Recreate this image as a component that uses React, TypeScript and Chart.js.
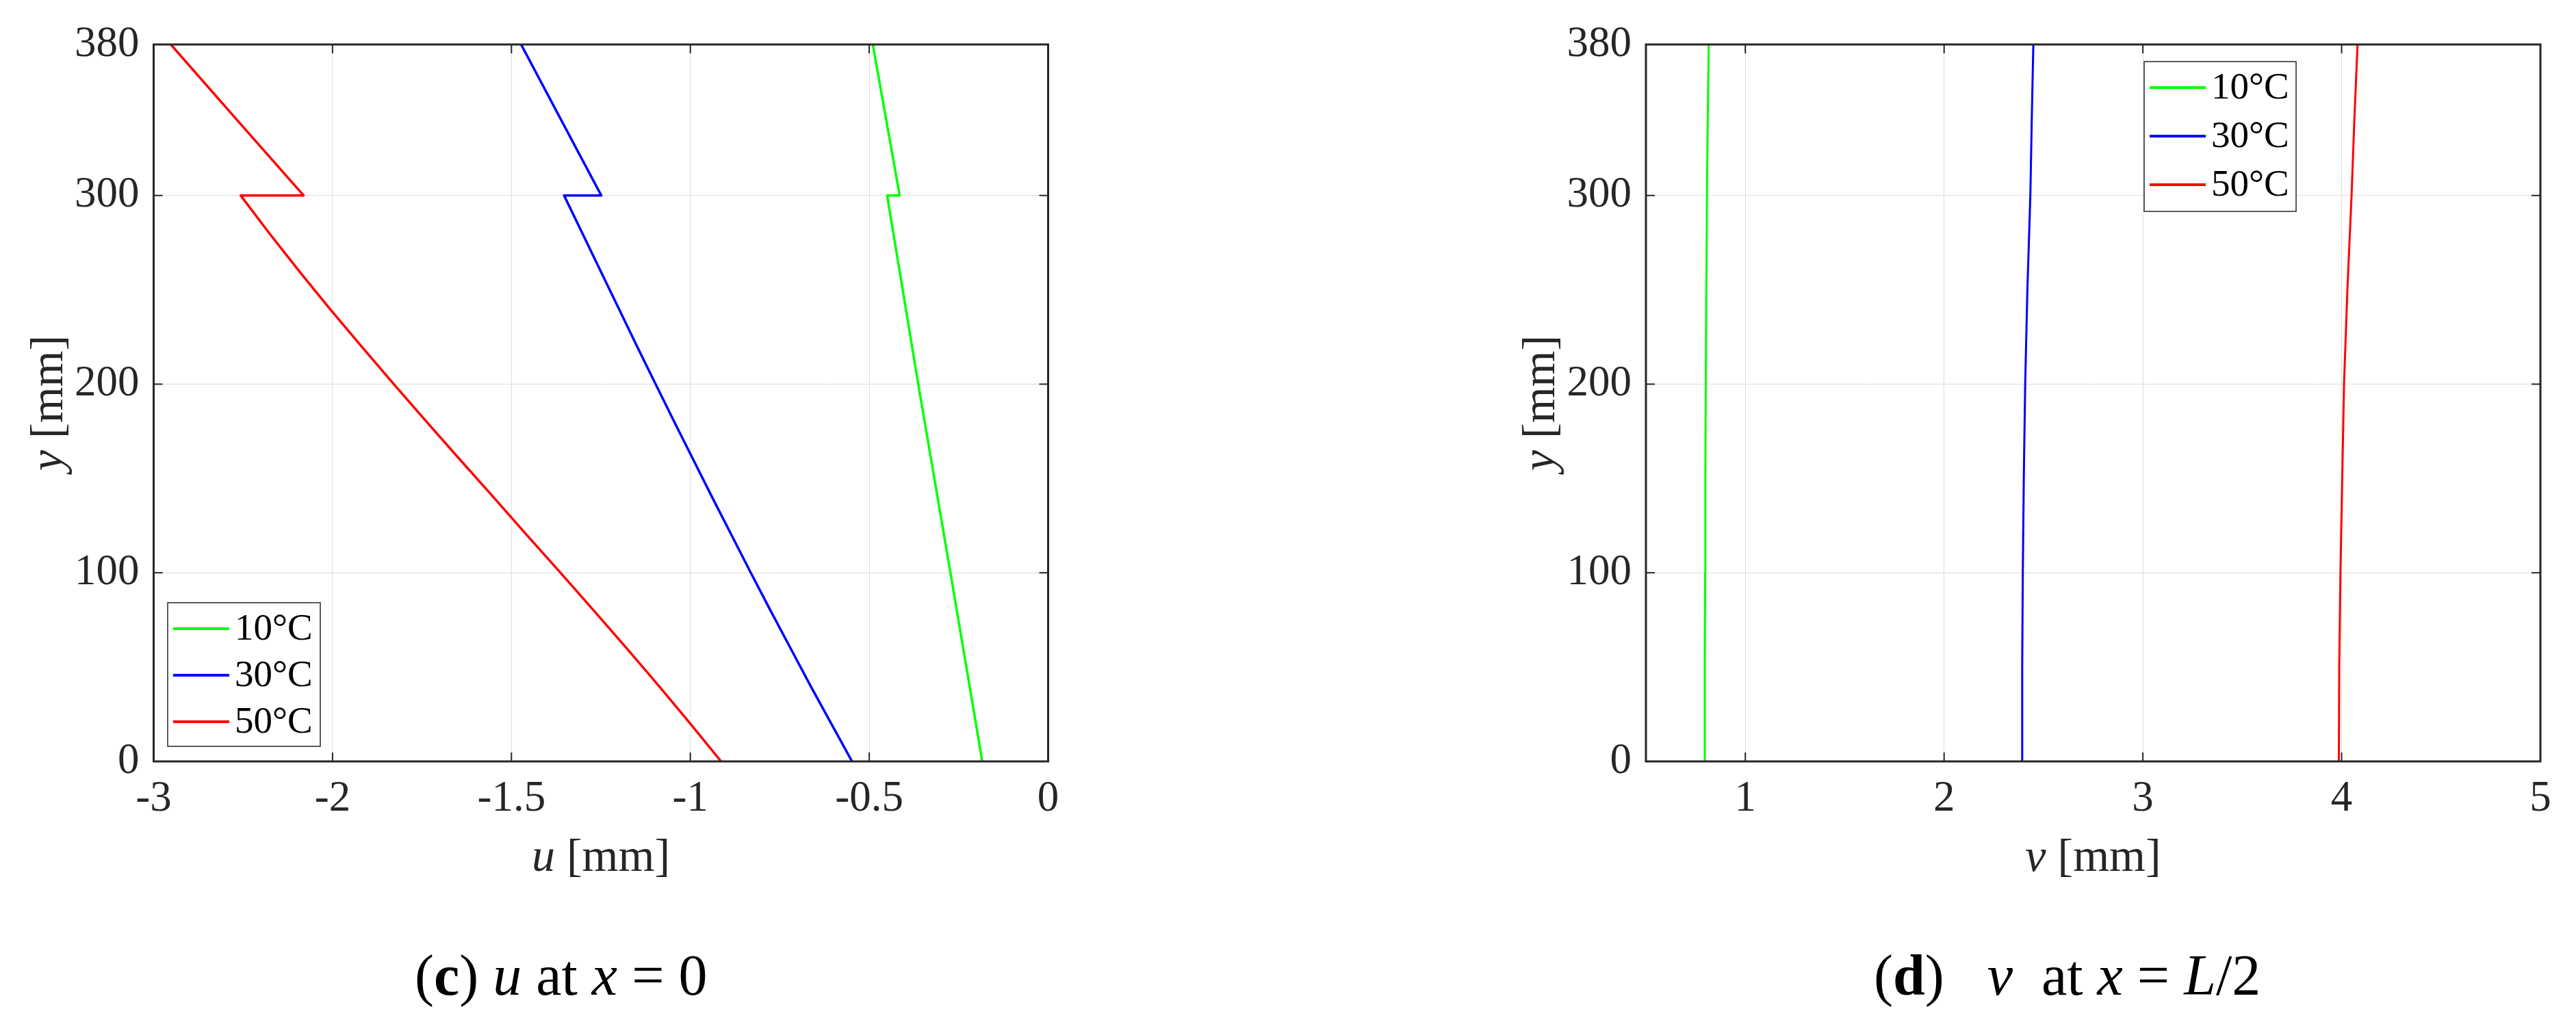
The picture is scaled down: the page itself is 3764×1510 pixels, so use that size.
import React, { useEffect, useRef } from "react";
import { Chart, registerables } from "chart.js";

Chart.register(...registerables);

// ---------- data ----------
const seriesLabels = ["10°C", "30°C", "50°C"];
const seriesColors = ["#00ff00", "#0000ff", "#ff0000"];

// (c) u at x = 0  (y in mm, u in mm)
const heights10u = [380, 300, 300, 200, 100, 0];
const u10 = [-0.49, -0.415, -0.45, -0.363, -0.273, -0.184];
const heights30u = [380, 340, 300, 300, 280, 260, 240, 220, 200, 180, 160, 140, 120, 100, 80, 60, 40, 20, 0];
const u30 = [-1.473, -1.361, -1.249, -1.353, -1.302, -1.251, -1.2, -1.149, -1.097, -1.045, -0.992, -0.939, -0.885, -0.831, -0.776, -0.72, -0.664, -0.606, -0.548];
const heights50u = [380, 340, 300, 300, 280, 260, 240, 220, 200, 180, 160, 140, 120, 100, 80, 60, 40, 20, 0];
const u50 = [-2.452, -2.267, -2.081, -2.257, -2.177, -2.094, -2.008, -1.919, -1.829, -1.737, -1.644, -1.55, -1.457, -1.363, -1.27, -1.178, -1.088, -1.0, -0.914];

// (d) v at x = L/2
const heightsV = [0, 50, 100, 150, 200, 250, 300, 340, 380];
const v10 = [0.795, 0.796, 0.798, 0.799, 0.801, 0.804, 0.807, 0.811, 0.816];
const v30 = [2.391, 2.393, 2.396, 2.401, 2.408, 2.419, 2.434, 2.441, 2.449];
const v50 = [3.986, 3.988, 3.994, 4.003, 4.012, 4.029, 4.05, 4.064, 4.08];

// ticks
const heightTicks = [0, 100, 200, 300, 380];
const heightTickLabels = ["0", "100", "200", "300", "380"];
const uTicks = [-2.5, -2, -1.5, -1, -0.5, 0];
const uTickLabels = ["-3", "-2", "-1.5", "-1", "-0.5", "0"];
const vTicks = [1, 2, 3, 4, 5];
const vTickLabels = ["1", "2", "3", "4", "5"];

// ---------- styling ----------
const FAMILY = "'Liberation Serif', 'Times New Roman', serif";
const AX = "#262626";
const GRID = "#dedede";

type Seg = { t: string; s?: "i" | "b" };

function fontFor(s: string | undefined, size: number) {
  return `${s === "i" ? "italic " : ""}${s === "b" ? "bold " : ""}${size}px ${FAMILY}`;
}

function segWidth(ctx: CanvasRenderingContext2D, segs: Seg[], size: number) {
  let w = 0;
  for (const g of segs) {
    ctx.font = fontFor(g.s, size);
    w += ctx.measureText(g.t).width;
  }
  return w;
}

function drawSegs(ctx: CanvasRenderingContext2D, segs: Seg[], x: number, y: number, size: number, color: string) {
  let cx = x;
  ctx.fillStyle = color;
  ctx.textAlign = "left";
  ctx.textBaseline = "alphabetic";
  for (const g of segs) {
    ctx.font = fontFor(g.s, size);
    ctx.fillText(g.t, cx, y);
    cx += ctx.measureText(g.t).width;
  }
}

type Panel = {
  W: number;
  H: number;
  area: { left: number; right: number; top: number; bottom: number };
  xMin: number;
  xMax: number;
  xTicks: number[];
  xLabels: string[];
  yTicks: number[];
  yLabels: string[];
  series: { xs: number[]; ys: number[] }[];
  lineWidth: number;
  xTitle: Seg[];
  yTitle: Seg[];
  caption: Seg[];
  captionX: number;
  legend: { left: number; top: number; width: number; height: number; firstRow: number; rowGap: number; textSize: number };
};

const leftPanel: Panel = {
  W: 1882,
  H: 1510,
  area: { left: 224.5, right: 1531.5, top: 65, bottom: 1113 },
  xMin: -2.5,
  xMax: 0,
  xTicks: uTicks,
  xLabels: uTickLabels,
  yTicks: heightTicks,
  yLabels: heightTickLabels,
  series: [
    { xs: u10, ys: heights10u },
    { xs: u30, ys: heights30u },
    { xs: u50, ys: heights50u },
  ],
  lineWidth: 3.5,
  xTitle: [{ t: "u", s: "i" }, { t: " [mm]" }],
  yTitle: [{ t: "y", s: "i" }, { t: " [mm]" }],
  caption: [{ t: "(" }, { t: "c", s: "b" }, { t: ") " }, { t: "u", s: "i" }, { t: " at " }, { t: "x", s: "i" }, { t: " = 0" }],
  captionX: 606,
  legend: { left: 245, top: 881, width: 223, height: 210, firstRow: 38, rowGap: 68, textSize: 55 },
};

const rightPanel: Panel = {
  W: 1882,
  H: 1510,
  area: { left: 523, right: 1830, top: 65, bottom: 1113 },
  xMin: 0.5,
  xMax: 5,
  xTicks: vTicks,
  xLabels: vTickLabels,
  yTicks: heightTicks,
  yLabels: heightTickLabels,
  series: [
    { xs: v10, ys: heightsV },
    { xs: v30, ys: heightsV },
    { xs: v50, ys: heightsV },
  ],
  lineWidth: 3,
  xTitle: [{ t: "v", s: "i" }, { t: " [mm]" }],
  yTitle: [{ t: "y", s: "i" }, { t: " [mm]" }],
  caption: [{ t: "(" }, { t: "d", s: "b" }, { t: ")   " }, { t: "v", s: "i" }, { t: "  at " }, { t: "x", s: "i" }, { t: " = " }, { t: "L", s: "i" }, { t: "/2" }],
  captionX: 856,
  legend: { left: 1251, top: 90, width: 222, height: 219, firstRow: 38, rowGap: 71, textSize: 55 },
};

function makeDecor(p: Panel) {
  return {
    id: "decor",
    afterDatasetsDraw(chart: any) {
      const ctx: CanvasRenderingContext2D = chart.ctx;
      const a = chart.chartArea;
      const xs = chart.scales.x;
      const ys = chart.scales.y;
      ctx.save();
      // inward ticks on all four sides
      ctx.strokeStyle = AX;
      ctx.lineWidth = 2;
      const tl = 13;
      ctx.beginPath();
      for (const v of p.xTicks) {
        const px = xs.getPixelForValue(v);
        if (Math.abs(px - a.left) < 2 || Math.abs(px - a.right) < 2) continue;
        ctx.moveTo(px, a.bottom);
        ctx.lineTo(px, a.bottom - tl);
        ctx.moveTo(px, a.top);
        ctx.lineTo(px, a.top + tl);
      }
      for (const v of p.yTicks) {
        const py = ys.getPixelForValue(v);
        if (Math.abs(py - a.top) < 2 || Math.abs(py - a.bottom) < 2) continue;
        ctx.moveTo(a.left, py);
        ctx.lineTo(a.left + tl, py);
        ctx.moveTo(a.right, py);
        ctx.lineTo(a.right - tl, py);
      }
      ctx.stroke();
      // box
      ctx.lineWidth = 3;
      ctx.strokeRect(a.left, a.top, a.right - a.left, a.bottom - a.top);
      ctx.restore();
    },
    afterDraw(chart: any) {
      const ctx: CanvasRenderingContext2D = chart.ctx;
      const a = chart.chartArea;
      ctx.save();
      // legend
      const L = p.legend;
      ctx.fillStyle = "#ffffff";
      ctx.fillRect(L.left, L.top, L.width, L.height);
      ctx.strokeStyle = AX;
      ctx.lineWidth = 1.5;
      ctx.strokeRect(L.left, L.top, L.width, L.height);
      chart.data.datasets.forEach((ds: any, i: number) => {
        const ry = L.top + L.firstRow + i * L.rowGap;
        ctx.strokeStyle = ds.borderColor;
        ctx.lineWidth = 4;
        ctx.beginPath();
        ctx.moveTo(L.left + 8, ry);
        ctx.lineTo(L.left + 90, ry);
        ctx.stroke();
        ctx.fillStyle = "#000000";
        ctx.font = `${L.textSize}px ${FAMILY}`;
        ctx.textAlign = "left";
        ctx.textBaseline = "middle";
        ctx.fillText(ds.label, L.left + 98, ry + 2);
      });
      // x title
      const tSize = 68;
      const xw = segWidth(ctx, p.xTitle, tSize);
      drawSegs(ctx, p.xTitle, (a.left + a.right) / 2 - xw / 2, 1273, tSize, AX);
      // y title (rotated)
      const yw = segWidth(ctx, p.yTitle, tSize);
      ctx.save();
      ctx.translate(a.left - 134, (a.top + a.bottom) / 2);
      ctx.rotate(-Math.PI / 2);
      drawSegs(ctx, p.yTitle, -yw / 2, 0, tSize, AX);
      ctx.restore();
      // caption
      drawSegs(ctx, p.caption, p.captionX, 1454, 84, "#000000");
      ctx.restore();
    },
  };
}

function makeConfig(p: Panel): any {
  return {
    type: "line",
    data: {
      datasets: p.series.map((s, i) => ({
        label: seriesLabels[i],
        data: s.xs.map((x, k) => ({ x, y: s.ys[k] })),
        borderColor: seriesColors[i],
        backgroundColor: seriesColors[i],
        borderWidth: p.lineWidth,
        borderJoinStyle: "round",
        pointRadius: 0,
        tension: 0,
        fill: false,
      })),
    },
    options: {
      animation: false,
      responsive: false,
      devicePixelRatio: 1,
      layout: { padding: { left: 0, top: p.area.top, right: p.W - p.area.right, bottom: 0 } },
      plugins: { legend: { display: false }, tooltip: { enabled: false } },
      scales: {
        x: {
          type: "linear",
          min: p.xMin,
          max: p.xMax,
          afterBuildTicks: (s: any) => {
            s.ticks = p.xTicks.map((v) => ({ value: v }));
          },
          afterFit: (s: any) => {
            s.height = p.H - p.area.bottom;
          },
          ticks: {
            autoSkip: false,
            maxRotation: 0,
            minRotation: 0,
            padding: 18,
            color: AX,
            font: { family: FAMILY, size: 63 },
            callback: (v: number) => {
              const i = p.xTicks.findIndex((t) => Math.abs(t - v) < 1e-9);
              return i >= 0 ? p.xLabels[i] : "";
            },
          },
          grid: { color: GRID, lineWidth: 1, drawTicks: false },
          border: { display: false },
        },
        y: {
          type: "linear",
          min: 0,
          max: 380,
          afterBuildTicks: (s: any) => {
            s.ticks = p.yTicks.map((v) => ({ value: v }));
          },
          afterFit: (s: any) => {
            s.width = p.area.left;
          },
          ticks: {
            autoSkip: false,
            padding: 21,
            color: AX,
            font: { family: FAMILY, size: 63 },
            callback: (v: number) => {
              const i = p.yTicks.findIndex((t) => Math.abs(t - v) < 1e-9);
              return i >= 0 ? p.yLabels[i] : "";
            },
          },
          grid: { color: GRID, lineWidth: 1, drawTicks: false },
          border: { display: false },
        },
      },
    },
    plugins: [makeDecor(p)],
  };
}

export default function App() {
  const ref1 = useRef<HTMLCanvasElement>(null);
  const ref2 = useRef<HTMLCanvasElement>(null);
  useEffect(() => {
    const c1 = new Chart(ref1.current as HTMLCanvasElement, makeConfig(leftPanel));
    const c2 = new Chart(ref2.current as HTMLCanvasElement, makeConfig(rightPanel));
    return () => {
      c1.destroy();
      c2.destroy();
    };
  }, []);
  return (
    <div style={{ position: "absolute", left: 0, top: 0, width: 3764, height: 1510, background: "#ffffff", overflow: "hidden" }}>
      <canvas ref={ref1} width={1882} height={1510} style={{ position: "absolute", left: 0, top: 0, width: 1882, height: 1510 }} />
      <canvas ref={ref2} width={1882} height={1510} style={{ position: "absolute", left: 1882, top: 0, width: 1882, height: 1510 }} />
    </div>
  );
}
